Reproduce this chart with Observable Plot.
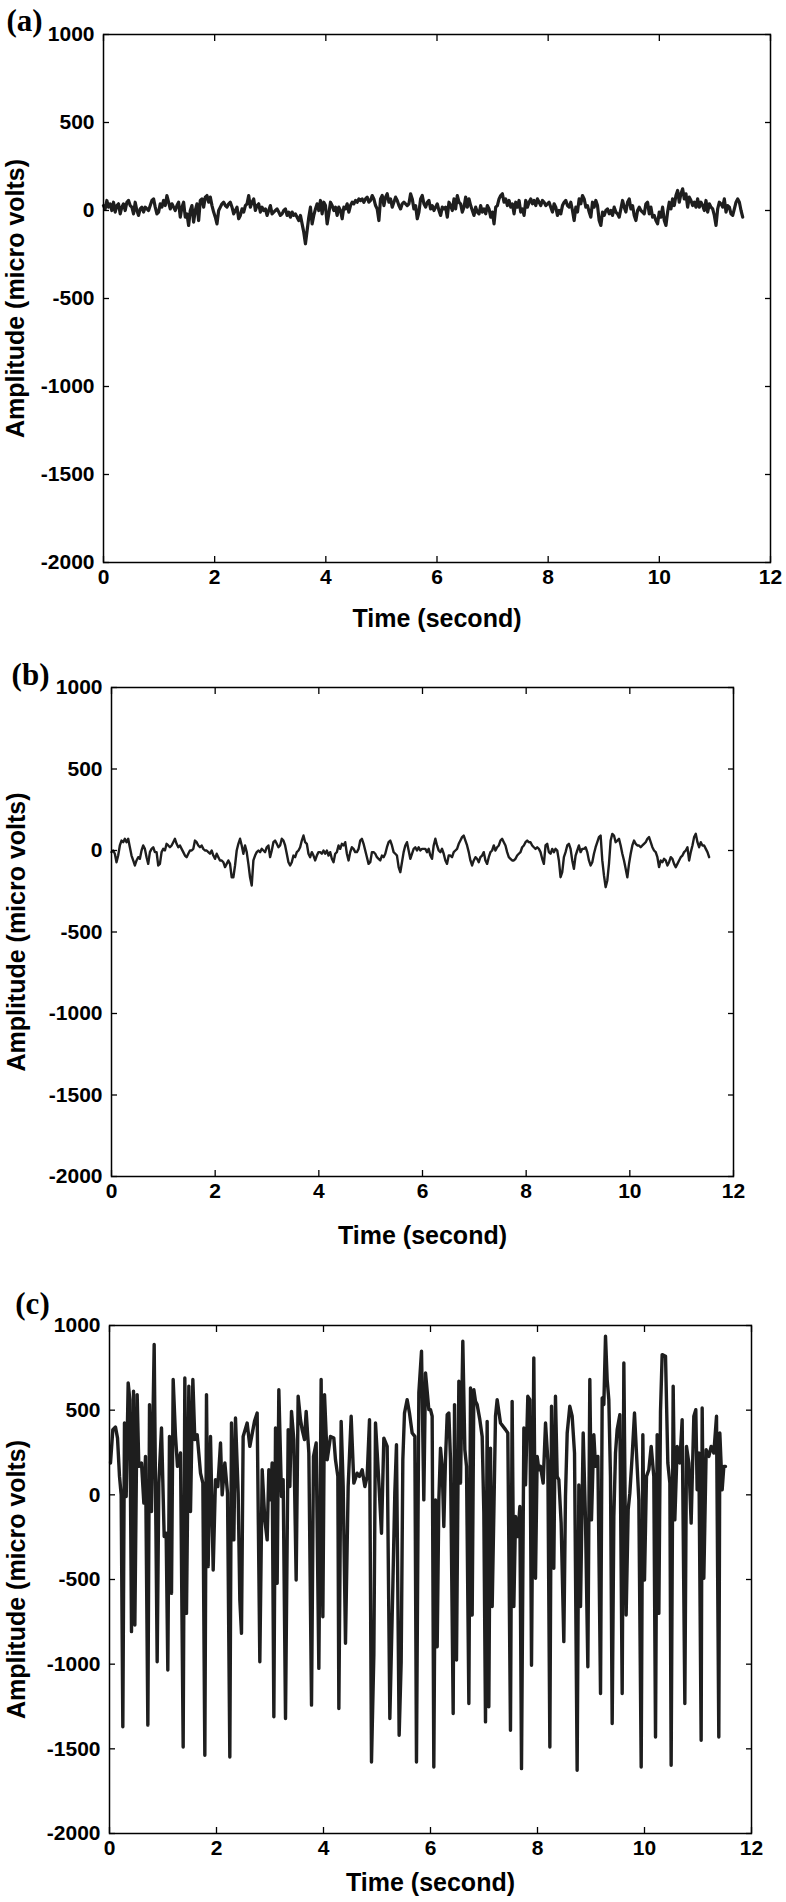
<!DOCTYPE html>
<html><head><meta charset="utf-8">
<script src="https://cdn.jsdelivr.net/npm/d3@7"></script>
<script src="https://cdn.jsdelivr.net/npm/@observablehq/plot@0.6"></script>
<style>
body{margin:0;background:#fff;}
#wrap{position:relative;width:786px;height:1902px;background:#fff;}
.panel{position:absolute;left:0;}
</style></head><body><div id="wrap"></div>
<script>
// Axis ticks
const xTicks = [0, 2, 4, 6, 8, 10, 12];
const yTicks = [-2000, -1500, -1000, -500, 0, 500, 1000];
const xTitle = "Time (second)";
const yTitle = "Amplitude (micro volts)";
const panelLabels = ["(a)", "(b)", "(c)"];

// Panel (a): evenly sampled recording, 0 – 11.5 s
const aDuration = 11.5;
const aAmplitude = [
28,9,57,19,38,0,47,-9,28,38,-19,19,38,0,47,57,28,19,-19,47,0,-28,9,19,-9,19,9,0,28,57,
66,19,-19,-9,38,19,57,28,85,47,9,38,19,0,28,47,-38,19,47,-38,-19,-85,0,28,-66,0,38,-57,57,66,
19,76,85,47,76,28,-9,-38,-76,0,19,38,47,28,19,38,47,19,-19,0,19,-47,-28,9,-9,28,38,85,19,47,
66,0,28,38,-9,19,0,9,-28,0,28,-19,-9,0,9,-9,-28,-19,0,9,-28,-9,-38,-9,-28,-19,-38,-57,-28,-76,
-123,-189,-114,-38,19,-76,-28,9,38,0,57,-19,47,28,-76,-19,47,28,0,19,-28,19,0,-47,19,9,38,-9,28,47,
38,57,47,66,57,66,47,66,76,47,57,85,66,28,9,-57,66,85,28,76,95,47,66,19,47,76,57,28,9,38,
47,38,28,38,95,66,9,28,-47,-9,66,85,38,19,47,57,9,28,0,19,38,0,-28,19,9,
19,-38,47,28,0,66,9,85,47,38,-9,19,76,19,66,28,0,-28,19,-9,-19,28,-9,9,-19,28,9,-38,-9,-76,
19,28,66,85,95,47,66,28,57,19,38,-19,47,19,57,-9,9,-28,57,19,47,66,38,57,28,66,47,28,57,47,
28,38,47,19,-9,38,19,-28,0,-19,28,47,57,28,19,47,0,-57,19,-9,66,38,85,66,19,28,-9,-38,47,19,
57,28,-57,-85,-9,-28,0,9,-19,0,-28,19,-9,-19,-38,9,57,19,-9,47,66,9,28,-28,-57,0,19,0,-9,-19,
38,47,-19,19,-38,-28,-57,-76,-9,-38,19,-57,-85,-9,47,9,66,28,85,114,47,95,123,66,95,19,76,57,28,47,
19,66,19,47,28,0,57,-9,38,19,9,-28,-85,9,47,38,19,66,-9,28,19,-19,-28,9,47,66,47,0,-38
];

// Panel (b): evenly sampled recording, 0 – 11.53 s
const bDuration = 11.53;
const bAmplitude = [
-10,0,-20,-72,-31,31,61,51,72,51,72,20,-31,-61,-92,-61,-41,-51,0,31,10,-41,-82,-10,10,20,-10,-10,-92,-82,
-10,10,0,41,31,20,31,51,72,41,20,31,10,-10,-31,-41,-20,0,0,10,61,51,31,20,31,10,0,0,-10,-20,
0,-31,-51,-20,-41,-61,-61,-72,-102,-82,-61,-82,-164,-164,-92,0,41,72,31,-20,31,-10,-82,-164,-215,-61,-31,-10,0,-10,
10,0,-10,20,31,-41,0,51,61,41,20,31,72,61,31,-20,-72,-92,-72,-31,-41,-10,0,20,61,92,51,41,-20,-41,
-10,-31,-61,-31,-10,-10,-20,0,-20,0,-31,-10,-51,-72,-20,-10,31,10,41,31,51,-20,-61,-10,20,10,-10,-10,10,61,
72,41,0,-41,-82,-72,-10,-10,-20,-41,-51,-61,-31,-41,-20,20,51,61,31,-10,-20,-31,-102,-133,-72,-10,31,51,0,-51,
-20,10,20,0,20,0,10,10,
10,-10,10,-31,-51,31,72,31,0,-10,10,-20,-61,-82,-31,-31,-41,-10,0,10,41,61,82,92,61,31,-10,-61,-92,-61,
-41,-51,-72,-41,-31,-10,-61,-82,-41,-10,0,31,0,20,31,61,72,51,31,-10,-41,-51,-61,-61,-51,-31,-20,-10,20,31,
51,61,51,51,31,20,10,20,10,-10,-51,-82,31,41,-10,-20,10,-10,10,0,-61,-164,-133,-41,-10,31,41,10,-61,-112,
-31,0,31,-10,10,10,20,-10,-61,-92,-72,-20,20,51,82,92,-61,-153,-225,-184,-82,61,102,92,51,61,72,31,-20,-61,
-112,-164,-82,-20,31,61,41,31,31,20,31,41,51,72,82,51,20,0,-10,-41,-102,-61,-72,-51,-61,-92,-72,-41,-51,-82,
-102,-82,-61,-41,-31,-10,0,20,-61,-10,31,82,102,51,20,51,31,31,10,-10,-41
];

// Panel (c): read-off turning points (time in s, amplitude in µV)
const cTime = [
0.019,0.062,0.112,0.150,0.187,0.218,0.249,0.280,0.312,0.349,
0.380,0.411,0.449,0.474,0.517,0.548,0.598,0.642,0.673,0.717,
0.748,0.785,0.835,0.891,0.922,0.972,1.022,1.059,1.090,1.121,
1.159,1.190,1.234,1.271,1.327,1.377,1.408,1.439,1.483,1.514,
1.558,1.595,1.639,1.701,1.745,1.782,1.813,1.844,1.888,1.938,
1.981,2.025,2.075,2.106,2.156,2.206,2.249,2.280,2.324,2.355,
2.405,2.436,2.467,2.498,2.573,2.623,2.710,2.760,2.810,2.854,
2.903,2.947,2.978,3.009,3.040,3.072,3.103,3.134,3.165,3.215,
3.246,3.290,3.340,3.371,3.402,3.445,3.489,3.526,3.570,3.601,
3.645,3.676,3.726,3.776,3.813,3.863,3.913,3.956,3.988,4.019,
4.069,4.131,4.193,4.224,4.268,4.287,4.330,4.368,4.411,4.461,
4.517,4.567,4.629,4.673,4.723,4.773,4.816,4.860,4.897,4.941,
4.972,5.022,5.084,5.128,5.190,5.240,5.296,5.333,5.364,5.414,
5.452,5.483,5.514,5.564,5.607,5.657,5.707,5.738,5.782,5.832,
5.875,5.907,5.969,
6.000,6.031,6.062,6.093,6.125,6.156,6.187,6.218,6.249,6.280,
6.312,6.343,6.374,6.424,6.449,6.486,6.530,6.561,6.604,6.642,
6.673,6.717,6.748,6.779,6.810,6.841,6.872,6.922,6.966,6.997,
7.028,7.059,7.090,7.121,7.153,7.184,7.215,7.246,7.308,7.402,
7.445,7.495,7.526,7.558,7.589,7.632,7.670,7.701,7.745,7.776,
7.819,7.857,7.888,7.931,7.963,7.994,8.025,8.056,8.106,8.150,
8.193,8.231,8.262,8.305,8.336,8.368,8.399,8.442,8.492,8.523,
8.555,8.604,8.648,8.692,8.741,8.773,8.804,8.854,8.897,8.941,
8.978,9.009,9.053,9.084,9.128,9.178,9.209,9.240,9.271,9.302,
9.333,9.364,9.396,9.427,9.458,9.489,9.539,9.583,9.614,9.657,
9.695,9.726,9.769,9.813,9.850,9.894,9.938,9.969,10.000,10.037,
10.081,10.125,10.174,10.206,10.237,10.268,10.299,10.330,10.393,10.436,
10.474,10.498,10.536,10.567,10.611,10.660,10.704,10.754,10.785,10.829,
10.872,10.922,10.959,10.984,11.016,11.059,11.078,11.109,11.153,11.203,
11.246,11.296,11.346,11.389,11.408,11.452,11.483,11.514
];
const cAmplitude = [
188,385,400,335,109,0,-1370,424,-10,661,
562,-808,612,-769,592,168,188,-49,227,-1360,
533,-98,888,-986,69,395,-246,-227,-1035,345,
-582,681,345,168,247,-1489,690,-700,641,-98,
681,326,355,128,69,-1538,592,-424,345,-444,
89,49,306,0,188,10,-1548,424,-266,454,
10,-621,-818,345,424,286,434,483,-986,148,
-148,-266,148,-30,188,-1311,395,-522,621,-10,
89,-1321,385,49,493,326,-503,582,444,385,
326,493,247,-1242,227,306,-1025,681,-720,592,
207,345,335,207,109,-1262,434,49,-877,49,
464,69,128,109,148,49,109,444,-1578,-946,
424,148,-227,335,286,-1321,-542,10,296,-1420,
-986,207,483,562,483,365,345,-1578,602,848,
-30,720,503,
503,464,-1607,-30,-897,-30,276,168,-187,207,
473,483,207,-1291,533,-976,671,69,907,266,
168,-1232,631,-710,621,552,533,444,345,-108,
-1341,434,-1252,276,-660,-108,464,562,424,385,
365,-1390,552,-660,-128,-246,-69,-1617,395,59,
582,562,-1006,809,-493,227,148,168,69,424,
207,-1489,523,-434,582,109,89,-167,-867,-10,
365,523,464,247,-1627,59,-660,365,-148,-1015,
681,-148,355,168,227,-1173,572,533,937,681,
562,109,-1351,-128,247,385,473,-1173,779,-710,
-89,10,227,483,247,-30,-1607,355,-503,109,
148,286,109,-1430,355,-700,493,828,818,188,
69,-1597,641,-148,286,188,444,-1232,286,188,
-167,464,503,30,247,-1449,513,-493,266,227,
286,247,464,-1430,365,30,168,168
];

const aData = aAmplitude.map((v, i) => ({t: i * aDuration / (aAmplitude.length - 1), v}));
const bData = bAmplitude.map((v, i) => ({t: i * bDuration / (bAmplitude.length - 1), v}));
const cData = cTime.map((t, i) => ({t, v: cAmplitude[i]}));

const sans = '"Liberation Sans", Arial, Helvetica, sans-serif';
const serif = '"Liberation Serif", "Times New Roman", serif';
const fmt = d => String(d);

function makePanel(cfg) {
  const p = Plot.plot({
    width: 786, height: cfg.height,
    marginLeft: cfg.ml, marginRight: cfg.mr, marginTop: cfg.mt, marginBottom: cfg.mb,
    style: {fontFamily: sans, background: "#fff", color: "#000", overflow: "visible"},
    x: {domain: [0, 12]},
    y: {domain: [-2000, 1000]},
    marks: [
      Plot.line(cfg.data, {x: "t", y: "v", stroke: "#1e1e1e", strokeWidth: cfg.sw, strokeLinejoin: "round"}),
      Plot.frame({stroke: "#000", strokeWidth: 1.5}),
      Plot.axisX(xTicks, {anchor: "bottom", tickSize: -6, text: null, label: null, strokeWidth: 1.3}),
      Plot.axisX(xTicks, {anchor: "top", tickSize: -6, text: null, label: null, strokeWidth: 1.3}),
      Plot.axisY(yTicks, {anchor: "left", tickSize: -6, text: null, label: null, strokeWidth: 1.3}),
      Plot.axisY(yTicks, {anchor: "right", tickSize: -6, text: null, label: null, strokeWidth: 1.3}),
      Plot.axisX(xTicks, {anchor: "bottom", tickSize: 0, tickPadding: 7, tickFormat: fmt, label: null,
        fontSize: 21, fontWeight: "bold", fill: "#000"}),
      Plot.axisY(yTicks, {anchor: "left", tickSize: 0, tickPadding: 9, tickFormat: fmt, label: null,
        fontSize: 21, fontWeight: "bold", fill: "#000"}),
      Plot.text([xTitle], {text: d => d, frameAnchor: "bottom", dy: cfg.xTitleDy, lineAnchor: "middle",
        textAnchor: "middle", fontSize: 25, fontWeight: "bold", fill: "#000"}),
      Plot.text([yTitle], {text: d => d, frameAnchor: "left", dx: cfg.yTitleDx, rotate: -90, lineAnchor: "middle",
        textAnchor: "middle", fontSize: 25, fontWeight: "bold", fill: "#000"}),
      Plot.text([cfg.label], {text: d => d, frameAnchor: "top-left", dx: cfg.labDx, dy: cfg.labDy,
        lineAnchor: "middle", textAnchor: "middle", fontFamily: serif, fontSize: 31, fontWeight: "bold", fill: "#000"})
    ]
  });
  const div = document.createElement("div");
  div.className = "panel";
  div.style.top = cfg.top + "px";
  div.appendChild(p);
  document.getElementById("wrap").appendChild(div);
}

makePanel({data: aData, label: panelLabels[0], top: 0, height: 640, ml: 103, mr: 16, mt: 34, mb: 78, sw: 3.2,
  xTitleDy: 56, yTitleDx: -88, labDx: -79, labDy: -13});
makePanel({data: bData, label: panelLabels[1], top: 640, height: 620, ml: 111, mr: 53, mt: 47, mb: 84, sw: 2.4,
  xTitleDy: 59, yTitleDx: -95, labDx: -81, labDy: -12});
makePanel({data: cData, label: panelLabels[2], top: 1260, height: 642, ml: 109, mr: 35, mt: 65, mb: 69, sw: 3.4,
  xTitleDy: 49, yTitleDx: -93, labDx: -77, labDy: -21});
</script>
</body></html>
